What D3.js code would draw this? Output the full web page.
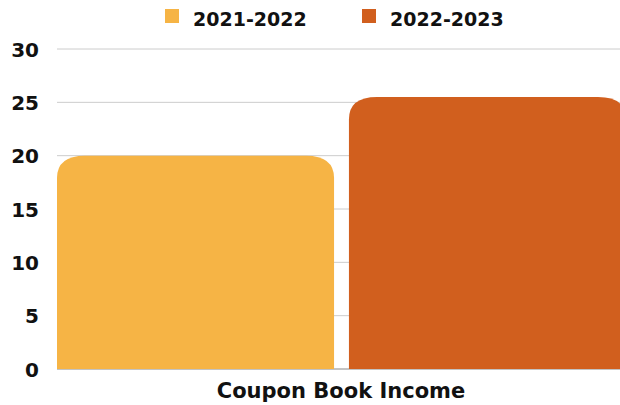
<!DOCTYPE html>
<html>
<head>
<meta charset="utf-8">
<script src="https://cdn.jsdelivr.net/npm/d3@7"></script>
<style>
  body { margin: 0; background: #fff; }
  text { font-family: 'DejaVu Sans', sans-serif; font-weight: bold; fill: #111; }
</style>
</head>
<body>
<div class="visContainer"></div>
<script>
const w = 620;
const h = 405;

// chart data
const category = 'Coupon Book Income';
const seriesNames = ['2021-2022', '2022-2023'];
const seriesValues = [20, 25.5];
const seriesColors = ['#F6B445', '#D15F1E'];
const yTicks = [0, 5, 10, 15, 20, 25, 30];

const plotLeft = 57, plotRight = 626, plotTop = 49, plotBottom = 369;

const svg = d3.select('.visContainer')
  .append('svg')
  .attr('width', w)
  .attr('height', h);

const yScale = d3.scaleLinear().domain([0, 30]).range([plotBottom, plotTop]);
const xScale = d3.scaleBand().domain(seriesNames).range([plotLeft, plotRight]).paddingInner(0.051);

// grid
svg.append('g')
  .selectAll('line')
  .data(yTicks.filter(d => d > 0))
  .enter()
  .append('line')
  .attr('x1', plotLeft)
  .attr('x2', 620)
  .attr('y1', d => yScale(d))
  .attr('y2', d => yScale(d))
  .attr('stroke', '#cccccc')
  .attr('stroke-width', 1);

// baseline
svg.append('line')
  .attr('x1', plotLeft).attr('x2', 620)
  .attr('y1', plotBottom).attr('y2', plotBottom)
  .attr('stroke', '#888').attr('stroke-width', 1);

const yAxis = d3.axisLeft(yScale).tickValues(yTicks).tickSize(0).tickPadding(0);
const yAxisGroup = svg.append('g')
  .attr('transform', 'translate(39,0)')
  .call(yAxis);
yAxisGroup.select('.domain').remove();
yAxisGroup.selectAll('text')
  .attr('dy', '0.36em')
  .style('font-size', '20px')
  .style('font-family', "'DejaVu Sans', sans-serif")
  .style('font-weight', 'bold')
  .attr('fill', '#111');

// bars with rounded top corners
function barPath(x, y, bw, bh, r) {
  const rx = Math.min(r, bw / 2), ry = Math.min(r * 0.8, bh);
  return `M${x},${y + bh}V${y + ry}Q${x},${y} ${x + rx},${y}H${x + bw - rx}Q${x + bw},${y} ${x + bw},${y + ry}V${y + bh}Z`;
}

svg.append('g')
  .selectAll('path')
  .data(seriesNames)
  .enter()
  .append('path')
  .attr('d', (d, i) => barPath(xScale(d), yScale(seriesValues[i]), xScale.bandwidth(), plotBottom - yScale(seriesValues[i]), 28))
  .attr('fill', (d, i) => seriesColors[i]);

// x label
svg.append('text')
  .attr('x', 341)
  .attr('y', 398)
  .attr('text-anchor', 'middle')
  .style('font-size', '21px')
  .text(category);

// legend
const legendX = [165, 362];
const legend = svg.append('g')
  .selectAll('g')
  .data(seriesNames)
  .enter()
  .append('g')
  .attr('transform', (d, i) => `translate(${legendX[i]},9)`);
legend.append('rect')
  .attr('width', 14).attr('height', 14)
  .attr('fill', (d, i) => seriesColors[i]);
legend.append('text')
  .attr('x', 28).attr('y', 15)
  .attr('dy', '0.1em')
  .style('font-size', '19px')
  .text(d => d);
</script>
</body>
</html>
